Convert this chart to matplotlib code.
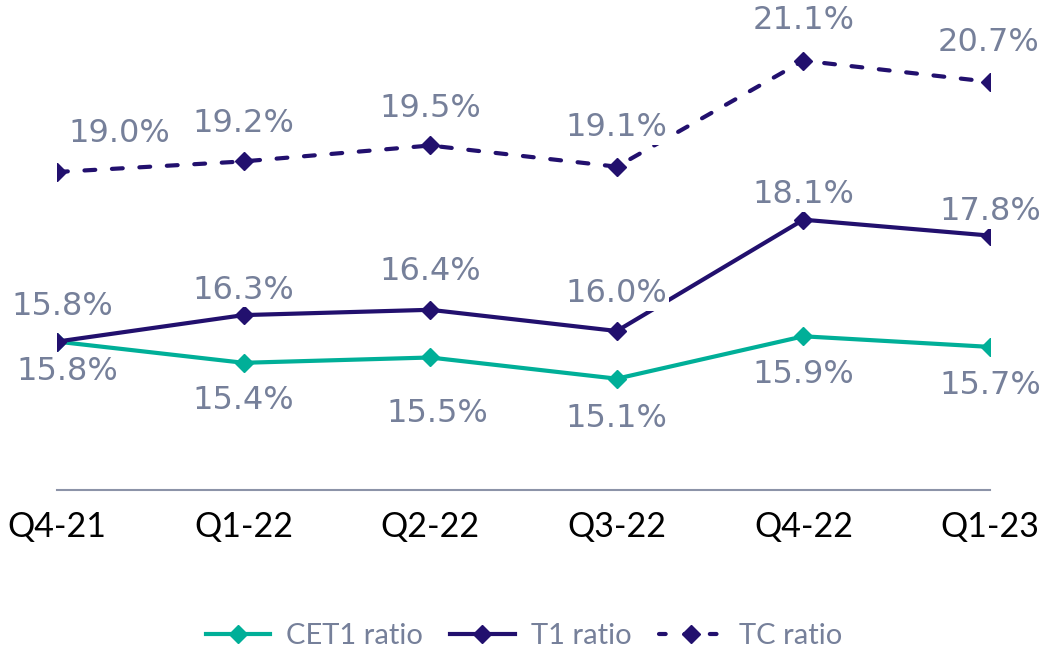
import matplotlib.pyplot as plt
from matplotlib.lines import Line2D

quarters = ["Q4-21", "Q1-22", "Q2-22", "Q3-22", "Q4-22", "Q1-23"]
cet1 = [15.8, 15.4, 15.5, 15.1, 15.9, 15.7]
t1 = [15.8, 16.3, 16.4, 16.0, 18.1, 17.8]
tc = [19.0, 19.2, 19.5, 19.1, 21.1, 20.7]

TEAL = "#00AF98"
PURPLE = "#22106E"
LABEL_GREY = "#76809A"
AXIS_GREY = "#8C93A8"

# label offsets in pixels (dx, dy) so the value labels don't collide
cet1_off = [(10, -30), (0, -38), (7, -56), (0, -40), (0, -38), (0, -39)]
t1_off = [(5, 35), (0, 25), (0, 38), (0, 37), (0, 25), (0, 24)]
tc_off = [(62, 38), (0, 38), (0, 37), (0, 39), (0, 40), (-2, 39)]

fig = plt.figure(figsize=(10.45, 6.5), dpi=100)
ax = fig.add_axes([57 / 1045, 160 / 650, 933 / 1045, 490 / 650])

x = list(range(len(quarters)))
ax.plot(x, cet1, color=TEAL, lw=3, marker="D", ms=9, zorder=3)
ax.plot(x, t1, color=PURPLE, lw=3, marker="D", ms=9, zorder=3)
ax.plot(x, tc, color=PURPLE, lw=3, marker="D", ms=9, zorder=3,
        dashes=(2.6, 4.0), dash_capstyle="round")


def add_labels(vals, offsets):
    for xi, v, (dx, dy) in zip(x, vals, offsets):
        ax.annotate(f"{v:.1f}%", (xi, v), xytext=(dx, dy),
                    textcoords="offset pixels", ha="center", va="center",
                    fontsize=23, color=LABEL_GREY, family="DejaVu Sans",
                    zorder=5, annotation_clip=False,
                    bbox=dict(boxstyle="square,pad=0.05", fc="white", ec="none"))


add_labels(cet1, cet1_off)
add_labels(t1, t1_off)
add_labels(tc, tc_off)

ax.set_xlim(0, 5)
ax.set_ylim(13, 13 + 490 / 53)
ax.set_xticks(x)
ax.set_xticklabels(quarters, fontsize=24.5, family="Lato", color="black")
ax.tick_params(axis="x", length=0, pad=15)
ax.set_yticks([])
for side in ["top", "right", "left"]:
    ax.spines[side].set_visible(False)
ax.spines["bottom"].set_color(AXIS_GREY)
ax.spines["bottom"].set_linewidth(1.5)

handles = [
    Line2D([], [], color=TEAL, lw=3, marker="D", ms=9),
    Line2D([], [], color=PURPLE, lw=3, marker="D", ms=9),
    Line2D([], [], color=PURPLE, lw=3, marker="D", ms=9,
           dashes=(1.6, 4.5), dash_capstyle="round"),
]
fig.legend(handles, ["CET1 ratio", "T1 ratio", "TC ratio"], loc="center",
           bbox_to_anchor=(0.5014, 1 - 636 / 650), ncol=3, frameon=False,
           prop={"family": "Lato", "size": 21}, labelcolor=LABEL_GREY,
           handlelength=2.2, handletextpad=0.55, columnspacing=0.95)

fig.savefig("out.png", dpi=100)
